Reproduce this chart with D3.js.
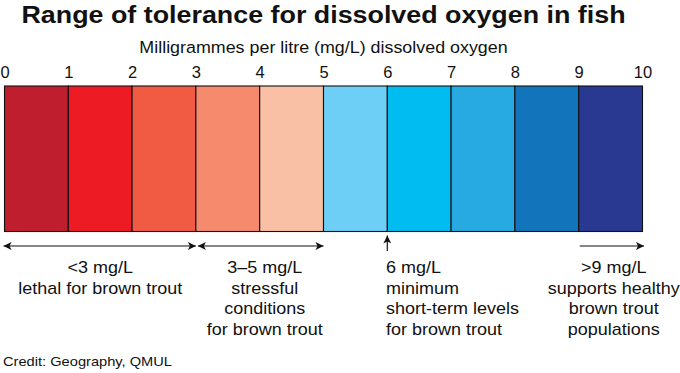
<!DOCTYPE html>
<html>
<head>
<meta charset="utf-8">
<script src="https://cdn.jsdelivr.net/npm/d3@7"></script>
<style>
  html, body { margin: 0; padding: 0; background: #fff; }
  svg { display: block; }
  text { font-family: "Liberation Sans", Arial, Helvetica, sans-serif; fill: #111; }
</style>
</head>
<body>
<svg id="chart" width="680" height="373"></svg>
<script>
// ---- data ----
const titleText = "Range of tolerance for dissolved oxygen in fish";
const subtitleText = "Milligrammes per litre (mg/L) dissolved oxygen";
const creditText = "Credit: Geography, QMUL";
const tickValues = [0, 1, 2, 3, 4, 5, 6, 7, 8, 9, 10];
const bandStarts = [0, 1, 2, 3, 4, 5, 6, 7, 8, 9];
const bandEnds   = [1, 2, 3, 4, 5, 6, 7, 8, 9, 10];
const bandColors = ["#be1e2d", "#ed1c24", "#f15a43", "#f68a6c", "#f9c0a6",
                    "#6dcff6", "#00bcf1", "#27a9e1", "#1274bb", "#293891"];
// annotations: arrow range, arrow type, text anchor value, alignment, lines
const annoFrom   = [0, 3, 6, 9];
const annoTo     = [3, 5, 6, 10];
const annoType   = ["both", "both", "up", "right"];
const annoTextAt = [1.5, 4.08, 5.98, 9.55];
const annoAlign  = ["middle", "middle", "start", "middle"];
const annoLines  = [
  ["<3 mg/L", "lethal for brown trout"],
  ["3\u20135 mg/L", "stressful", "conditions", "for brown trout"],
  ["6 mg/L", "minimum", "short-term levels", "for brown trout"],
  [">9 mg/L", "supports healthy", "brown trout", "populations"]
];

// ---- layout ----
const svg = d3.select("#chart");
const STRETCH = 1.11;
const x = d3.scaleLinear().domain([0, 10]).range([4.5, 642.5]);
const barTop = 86, barBottom = 231.5;
const arrowY = 246;
const lineH = 20.7;
const firstBaseline = 273;
const cx = (x(0) + x(10)) / 2;

function stretchedText(parent, tx, ty, str, size, weight, anchor, sx) {
  const g = parent.append("g").attr("transform", `translate(${tx},${ty}) scale(${sx},1)`);
  g.append("text")
    .attr("x", 0).attr("y", 0)
    .attr("text-anchor", anchor)
    .style("font-size", size + "px")
    .style("font-weight", weight)
    .text(str);
  return g;
}

// title + subtitle
stretchedText(svg, cx, 23, titleText, 24.2, "bold", "middle", STRETCH);
stretchedText(svg, cx, 53, subtitleText, 16.1, "normal", "middle", STRETCH);

// bands
svg.append("g").selectAll("rect")
  .data(bandStarts)
  .join("rect")
  .attr("x", (d) => x(d))
  .attr("y", barTop)
  .attr("width", (d, i) => x(bandEnds[i]) - x(d))
  .attr("height", barBottom - barTop)
  .attr("fill", (d, i) => bandColors[i])
  .attr("stroke", "#111")
  .attr("stroke-width", 1.1);

// tick labels via axis
const axis = d3.axisTop(x).tickValues(tickValues).tickFormat(d3.format("d")).tickSize(0).tickPadding(8);
const ag = svg.append("g").attr("transform", `translate(0,${barTop})`).call(axis);
ag.select(".domain").remove();
ag.selectAll("text")
  .style("font-size", "16.5px")
  .style("font-family", '"Liberation Sans", Arial, sans-serif')
  .attr("fill", "#111");

// arrow markers
const defs = svg.append("defs");
defs.append("marker").attr("id", "ah").attr("viewBox", "0 0 10 10")
  .attr("refX", 10).attr("refY", 5)
  .attr("markerWidth", 10).attr("markerHeight", 8)
  .attr("markerUnits", "userSpaceOnUse")
  .attr("orient", "auto-start-reverse")
  .append("path").attr("d", "M0,0 L10,5 L0,10 L2.5,5 Z").attr("fill", "#111");

const annoG = svg.append("g");
annoFrom.forEach((f, i) => {
  const t = annoTo[i];
  const type = annoType[i];
  let line;
  if (type === "up") {
    line = annoG.append("line")
      .attr("x1", x(f)).attr("x2", x(f))
      .attr("y1", arrowY + 5).attr("y2", barBottom + 4)
      .attr("marker-end", "url(#ah)");
  } else {
    line = annoG.append("line")
      .attr("x1", x(f) + (type === "both" ? (i === 0 ? -1 : 2) : 1))
      .attr("x2", x(t) + (type === "right" ? 1.5 : 0))
      .attr("y1", arrowY).attr("y2", arrowY)
      .attr("marker-end", "url(#ah)");
    if (type === "both") line.attr("marker-start", "url(#ah)");
  }
  line.attr("stroke", "#111").attr("stroke-width", 1.2);

  annoLines[i].forEach((s, j) => {
    stretchedText(annoG, x(annoTextAt[i]), firstBaseline + j * lineH, s, 16.2, "normal", annoAlign[i], STRETCH);
  });
});

// credit
stretchedText(svg, 3, 366, creditText, 13.2, "normal", "start", STRETCH);
</script>
</body>
</html>
